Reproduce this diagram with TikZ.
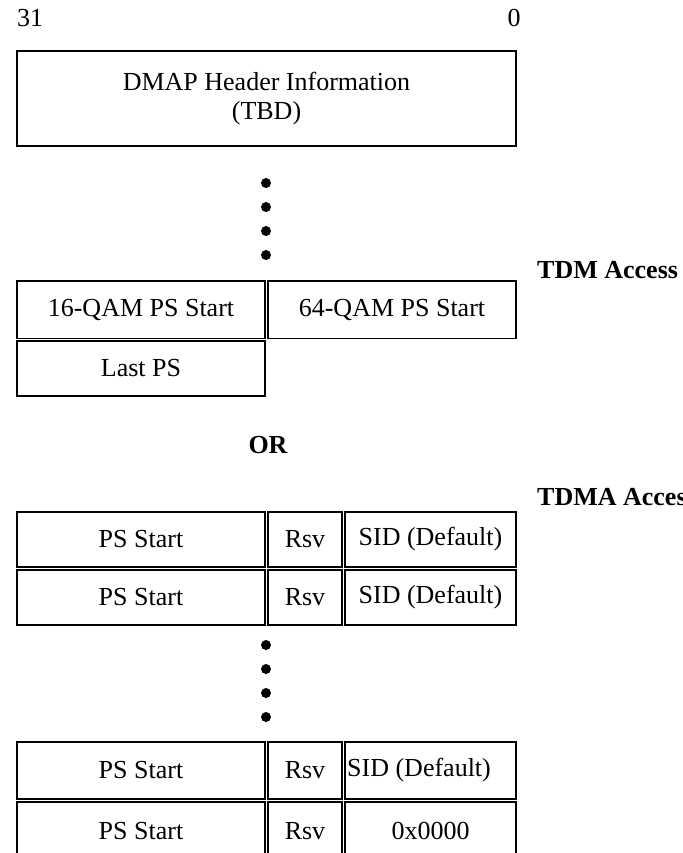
\documentclass[tikz,border=0pt]{standalone}
\usepackage{fontspec}
\setmainfont{Liberation Serif}
\begin{document}
\begin{tikzpicture}[x=1pt,y=-1pt,
  every node/.style={font=\fontsize{26}{30}\selectfont},
  cell/.style={draw,line width=1.3pt,inner sep=0pt,anchor=center,align=center},
  lbl/.style={inner sep=0pt},
  bold/.style={inner sep=0pt,font=\fontsize{26}{30}\selectfont\bfseries},
  dotc/.style={circle,fill=black,inner sep=0pt,minimum size=10pt}]
\useasboundingbox (0,0) rectangle (682,853);
\clip (0,0) rectangle (682,853);
% bit numbers
\node[lbl,anchor=west] (b31) at (17,18) {31};
\node[lbl] (b0) at (514,18) {0};
% header
\node[cell,minimum width=499pt,minimum height=95pt] (hdr) at (266.5,98.5) {DMAP Header Information\\[-1pt](TBD)};
% upper dots
\node[dotc] (d1) at (266,183) {};
\node[dotc] (d2) at (266,207) {};
\node[dotc] (d3) at (266,231) {};
\node[dotc] (d4) at (266,255) {};
% TDM
\node[bold,anchor=west] (tdm) at (537,270) {TDM Access};
\node[cell,minimum width=248pt,minimum height=57.5pt] (q16) at (141,309.75) {16-QAM PS Start};
\node[cell,minimum width=248pt,minimum height=57.5pt] (q64) at (392,309.75) {64-QAM PS Start};
\node[cell,minimum width=248pt,minimum height=55pt] (last) at (141,368.5) {Last PS};
% OR
\node[bold] (or) at (268,445) {OR};
% TDMA
\node[bold,anchor=west] (tdma) at (537,497) {TDMA Access};
\node[cell,minimum width=248pt,minimum height=55pt] (p1) at (141,539.5) {PS Start};
\node[cell,minimum width=74pt,minimum height=55pt] (r1) at (305,539.5) {Rsv};
\node[cell,minimum width=171pt,minimum height=55pt] (s1) at (430.5,539.5) {SID (Default)};
\node[cell,minimum width=248pt,minimum height=55pt] (p2) at (141,597.5) {PS Start};
\node[cell,minimum width=74pt,minimum height=55pt] (r2) at (305,597.5) {Rsv};
\node[cell,minimum width=171pt,minimum height=55pt] (s2) at (430.5,597.5) {SID (Default)};
% lower dots
\node[dotc] (e1) at (266,645) {};
\node[dotc] (e2) at (266,669) {};
\node[dotc] (e3) at (266,693) {};
\node[dotc] (e4) at (266,717) {};
% last rows
\node[cell,minimum width=248pt,minimum height=57pt] (p3) at (141,770.5) {PS Start};
\node[cell,minimum width=74pt,minimum height=57pt] (r3) at (305,770.5) {Rsv};
\node[cell,minimum width=171pt,minimum height=57pt] (s3) at (430.5,770.5) {};
\node[lbl,anchor=west] (s3t) at (347,770.5) {SID (Default)};
\node[cell,minimum width=248pt,minimum height=58pt] (p4) at (141,831) {PS Start};
\node[cell,minimum width=74pt,minimum height=58pt] (r4) at (305,831) {Rsv};
\node[cell,minimum width=171pt,minimum height=58pt] (s4) at (430.5,831) {0x0000};
\end{tikzpicture}
\end{document}
